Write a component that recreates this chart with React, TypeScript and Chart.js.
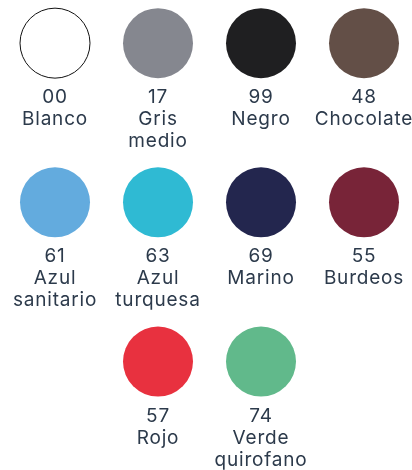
import React, { useEffect, useRef } from "react";
import { Chart, registerables } from "chart.js";

Chart.register(...registerables);

const codes = ["00", "17", "99", "48", "61", "63", "69", "55", "57", "74"];
const names = [
  "Blanco",
  "Gris\nmedio",
  "Negro",
  "Chocolate",
  "Azul\nsanitario",
  "Azul\nturquesa",
  "Marino",
  "Burdeos",
  "Rojo",
  "Verde\nquirofano",
];
const swatchColors = [
  "#ffffff",
  "#85878f",
  "#1f1f21",
  "#634f47",
  "#63abde",
  "#2fbad3",
  "#23264e",
  "#782438",
  "#e8313f",
  "#61b98b",
];
const columns = [0, 1, 2, 3, 0, 1, 2, 3, 1, 2];
const rows = [0, 0, 0, 0, 1, 1, 1, 1, 2, 2];

const TEXT_COLOR = "#2c3a4b";
const FONT = "19px Inter, 'DejaVu Sans', sans-serif";

const labelPlugin = {
  id: "swatchLabels",
  afterDatasetsDraw(chart: any) {
    const ctx = chart.ctx as CanvasRenderingContext2D;
    const meta = chart.getDatasetMeta(0);
    ctx.save();
    ctx.font = FONT;
    (ctx as any).letterSpacing = "0.8px";
    ctx.fillStyle = TEXT_COLOR;
    ctx.textAlign = "center";
    ctx.textBaseline = "alphabetic";
    meta.data.forEach((pt: any, i: number) => {
      const { x, y } = pt.getProps(["x", "y"], true);
      ctx.fillText(codes[i], x, y + 60);
      names[i].split("\n").forEach((line, j) => {
        ctx.fillText(line, x, y + 82 + 22 * j);
      });
    });
    ctx.restore();
  },
};

export default function App() {
  const canvasRef = useRef<HTMLCanvasElement | null>(null);

  useEffect(() => {
    const canvas = canvasRef.current;
    if (!canvas) return;
    const chart = new Chart(canvas, {
      type: "scatter",
      data: {
        datasets: [
          {
            data: codes.map((_, i) => ({ x: columns[i], y: rows[i] })),
            backgroundColor: swatchColors,
            borderColor: swatchColors.map((c, i) => (i === 0 ? "#111111" : c)),
            pointBackgroundColor: swatchColors,
            pointBorderColor: swatchColors.map((c, i) => (i === 0 ? "#111111" : c)),
            pointBorderWidth: swatchColors.map((_, i) => (i === 0 ? 1 : 0)),
            pointRadius: 35,
            pointHoverRadius: 35,
            clip: false,
          } as any,
        ],
      },
      options: {
        animation: false,
        responsive: false,
        devicePixelRatio: 1,
        events: [],
        layout: { padding: 0, autoPadding: false },
        plugins: {
          legend: { display: false },
          tooltip: { enabled: false },
        },
        scales: {
          x: { type: "linear", display: false, min: -0.534, max: 3.466 },
          y: { type: "linear", display: false, reverse: true, min: -0.271, max: 2.681 },
        },
      },
      plugins: [labelPlugin],
    });
    return () => chart.destroy();
  }, []);

  return (
    <div style={{ position: "absolute", left: 0, top: 0, width: 412, height: 470, background: "#ffffff" }}>
      <canvas ref={canvasRef} width={412} height={470} style={{ display: "block" }} />
    </div>
  );
}
